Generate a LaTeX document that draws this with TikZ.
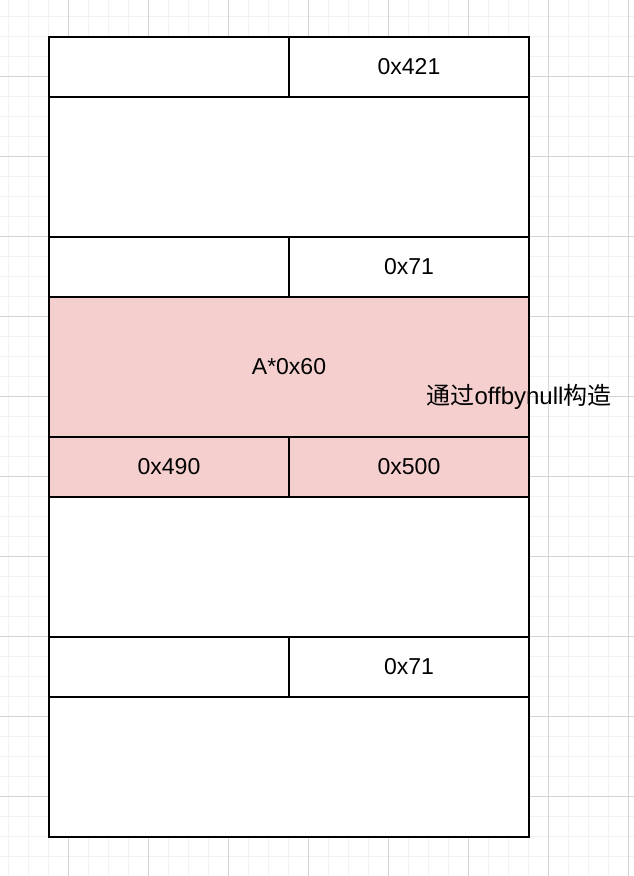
\documentclass[tikz,border=0pt]{standalone}
\usepackage{fontspec}
\setmainfont{Liberation Sans}
\newfontfamily\cjk{Noto Sans CJK SC}
\usetikzlibrary{positioning}
\definecolor{gridminor}{RGB}{242,242,242}
\definecolor{gridmajor}{RGB}{212,212,212}
\definecolor{chunkpink}{RGB}{244,207,206}

\begin{document}
\begin{tikzpicture}[x=1pt, y=-1pt,
    every node/.style={font=\fontsize{23}{27}\selectfont},
    cell/.style={draw, line width=2pt, fill=white, inner sep=0pt, outer sep=0pt,
                 minimum width=240pt, minimum height=60pt},
    wide/.style={cell, minimum width=480pt, minimum height=140pt},
    pink/.style={fill=chunkpink}]
\useasboundingbox (0,0) rectangle (634,876);
% background grid
\foreach \x in {8,28,...,628} \draw[gridminor, line width=1pt] (\x,0) -- (\x,876);
\foreach \y in {16,36,...,876} \draw[gridminor, line width=1pt] (0,\y) -- (634,\y);
\foreach \x in {68,148,...,628} \draw[gridmajor, line width=1pt] (\x,0) -- (\x,876);
\foreach \y in {76,156,...,796} \draw[gridmajor, line width=1pt] (0,\y) -- (634,\y);

% chunks
\node[cell, anchor=north west] (h1) at (49,37) {};
\node[cell, right=0pt of h1] (s1) {0x421};
\node[wide, below=0pt of h1.south east] (d1) {};
\node[cell, below=0pt of d1.south west, anchor=north west] (h2) {};
\node[cell, right=0pt of h2] (s2) {0x71};
\node[wide, pink, below=0pt of h2.south east] (a1) {A*0x60};
\node[cell, pink, below=0pt of a1.south west, anchor=north west] (p1) {0x490};
\node[cell, pink, right=0pt of p1] (p2) {0x500};
\node[wide, below=0pt of p1.south east] (d2) {};
\node[cell, below=0pt of d2.south west, anchor=north west] (h3) {};
\node[cell, right=0pt of h3] (s3) {0x71};
\node[wide, below=0pt of h3.south east] (d3) {};

\node[font=\fontsize{24}{28}\selectfont] (note) at (519,397) {{\cjk 通过}offbynull{\cjk 构造}};
\end{tikzpicture}
\end{document}
